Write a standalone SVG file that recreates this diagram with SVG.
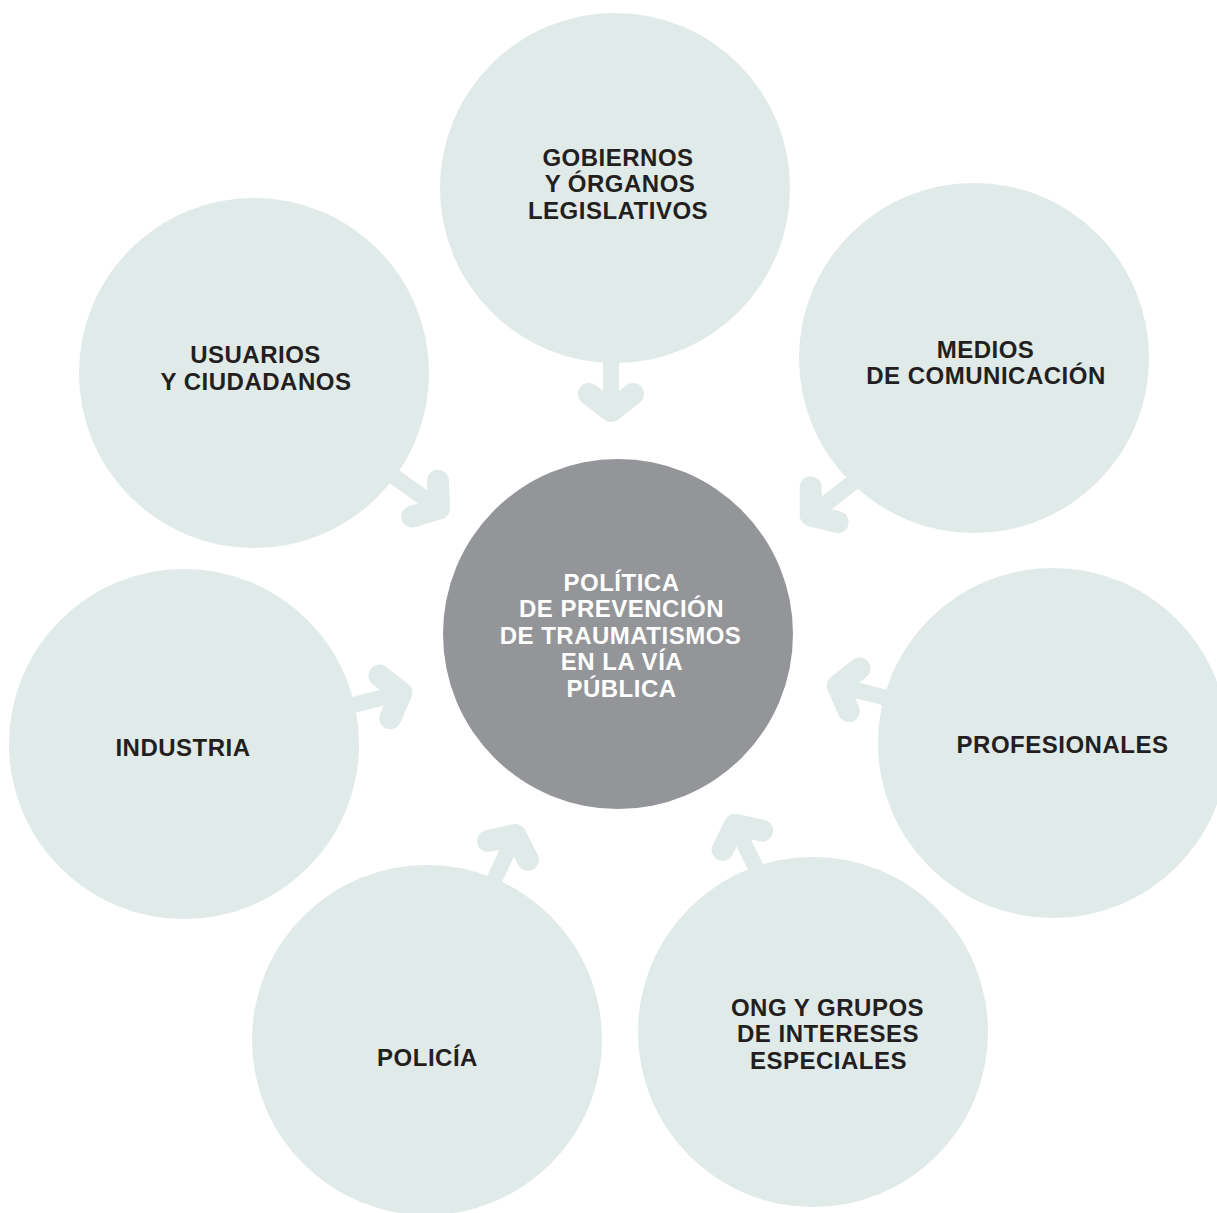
<svg xmlns="http://www.w3.org/2000/svg" width="1217" height="1213" viewBox="0 0 1217 1213">
  <defs>
    <style>
      .node { fill: #e0eae8; }
      .hub { fill: #939598; }
      .lbl { font-family: "Liberation Sans", Arial, sans-serif; font-weight: bold; font-size: 24px; letter-spacing: 0.5px; text-anchor: middle; fill: #231f20; }
      .hub-lbl { fill: #ffffff; }
      .stem { fill: none; stroke: #e0eae8; stroke-width: 16; }
      .head { fill: none; stroke: #e0eae8; stroke-width: 22; stroke-linecap: round; stroke-linejoin: round; }
    </style>
    <!-- arrow drawn pointing along +y; placed with translate/rotate -->
    <g id="arrow">
      <path class="stem" d="M0,-22 V40"/>
      <path class="head" d="M-22,26 L0,43 L22,26"/>
    </g>
  </defs>

  <rect width="1217" height="1213" fill="#ffffff"/>

  <!-- connectors toward the central policy node -->
  <g id="connectors">
    <use href="#arrow" transform="translate(611,368) rotate(0)"/>
    <use href="#arrow" transform="translate(404,483.5) rotate(-54.4)"/>
    <use href="#arrow" transform="translate(844.7,488.9) rotate(52.2)"/>
    <use href="#arrow" transform="translate(359.7,703.3) rotate(-104.2)"/>
    <use href="#arrow" transform="translate(879.4,696.1) rotate(104.1)"/>
    <use href="#arrow" transform="translate(497,873.9) rotate(-154.8)"/>
    <use href="#arrow" transform="translate(753.8,863.5) rotate(153.9)"/>
  </g>

  <g id="gobiernos">
    <circle class="node" cx="615" cy="188" r="175"/>
    <text class="lbl" x="618" y="165.5">GOBIERNOS</text>
    <text class="lbl" x="620" y="192">Y ÓRGANOS</text>
    <text class="lbl" x="618" y="218.5">LEGISLATIVOS</text>
  </g>

  <g id="usuarios">
    <circle class="node" cx="254" cy="373" r="175"/>
    <text class="lbl" x="255.5" y="362.5">USUARIOS</text>
    <text class="lbl" x="256" y="389.5">Y CIUDADANOS</text>
  </g>

  <g id="medios">
    <circle class="node" cx="974" cy="358" r="175"/>
    <text class="lbl" x="985.5" y="357.5">MEDIOS</text>
    <text class="lbl" x="986" y="383.5">DE COMUNICACIÓN</text>
  </g>

  <g id="industria">
    <circle class="node" cx="184" cy="744" r="175"/>
    <text class="lbl" x="183" y="755.5">INDUSTRIA</text>
  </g>

  <g id="profesionales">
    <circle class="node" cx="1053" cy="743" r="175"/>
    <text class="lbl" x="1062.5" y="752.5">PROFESIONALES</text>
  </g>

  <g id="policia">
    <circle class="node" cx="427" cy="1040" r="175"/>
    <text class="lbl" x="427.5" y="1065.5">POLICÍA</text>
  </g>

  <g id="ong">
    <circle class="node" cx="813" cy="1032" r="175"/>
    <text class="lbl" x="827.5" y="1015.5">ONG Y GRUPOS</text>
    <text class="lbl" x="828" y="1041.5">DE INTERESES</text>
    <text class="lbl" x="828.5" y="1068.5">ESPECIALES</text>
  </g>

  <g id="politica">
    <circle class="hub" cx="618" cy="634" r="175"/>
    <text class="lbl hub-lbl" x="621.5" y="590.5">POLÍTICA</text>
    <text class="lbl hub-lbl" x="621.5" y="617">DE PREVENCIÓN</text>
    <text class="lbl hub-lbl" x="620.5" y="643.5">DE TRAUMATISMOS</text>
    <text class="lbl hub-lbl" x="622" y="670">EN LA VÍA</text>
    <text class="lbl hub-lbl" x="621.5" y="696.5">PÚBLICA</text>
  </g>
</svg>
